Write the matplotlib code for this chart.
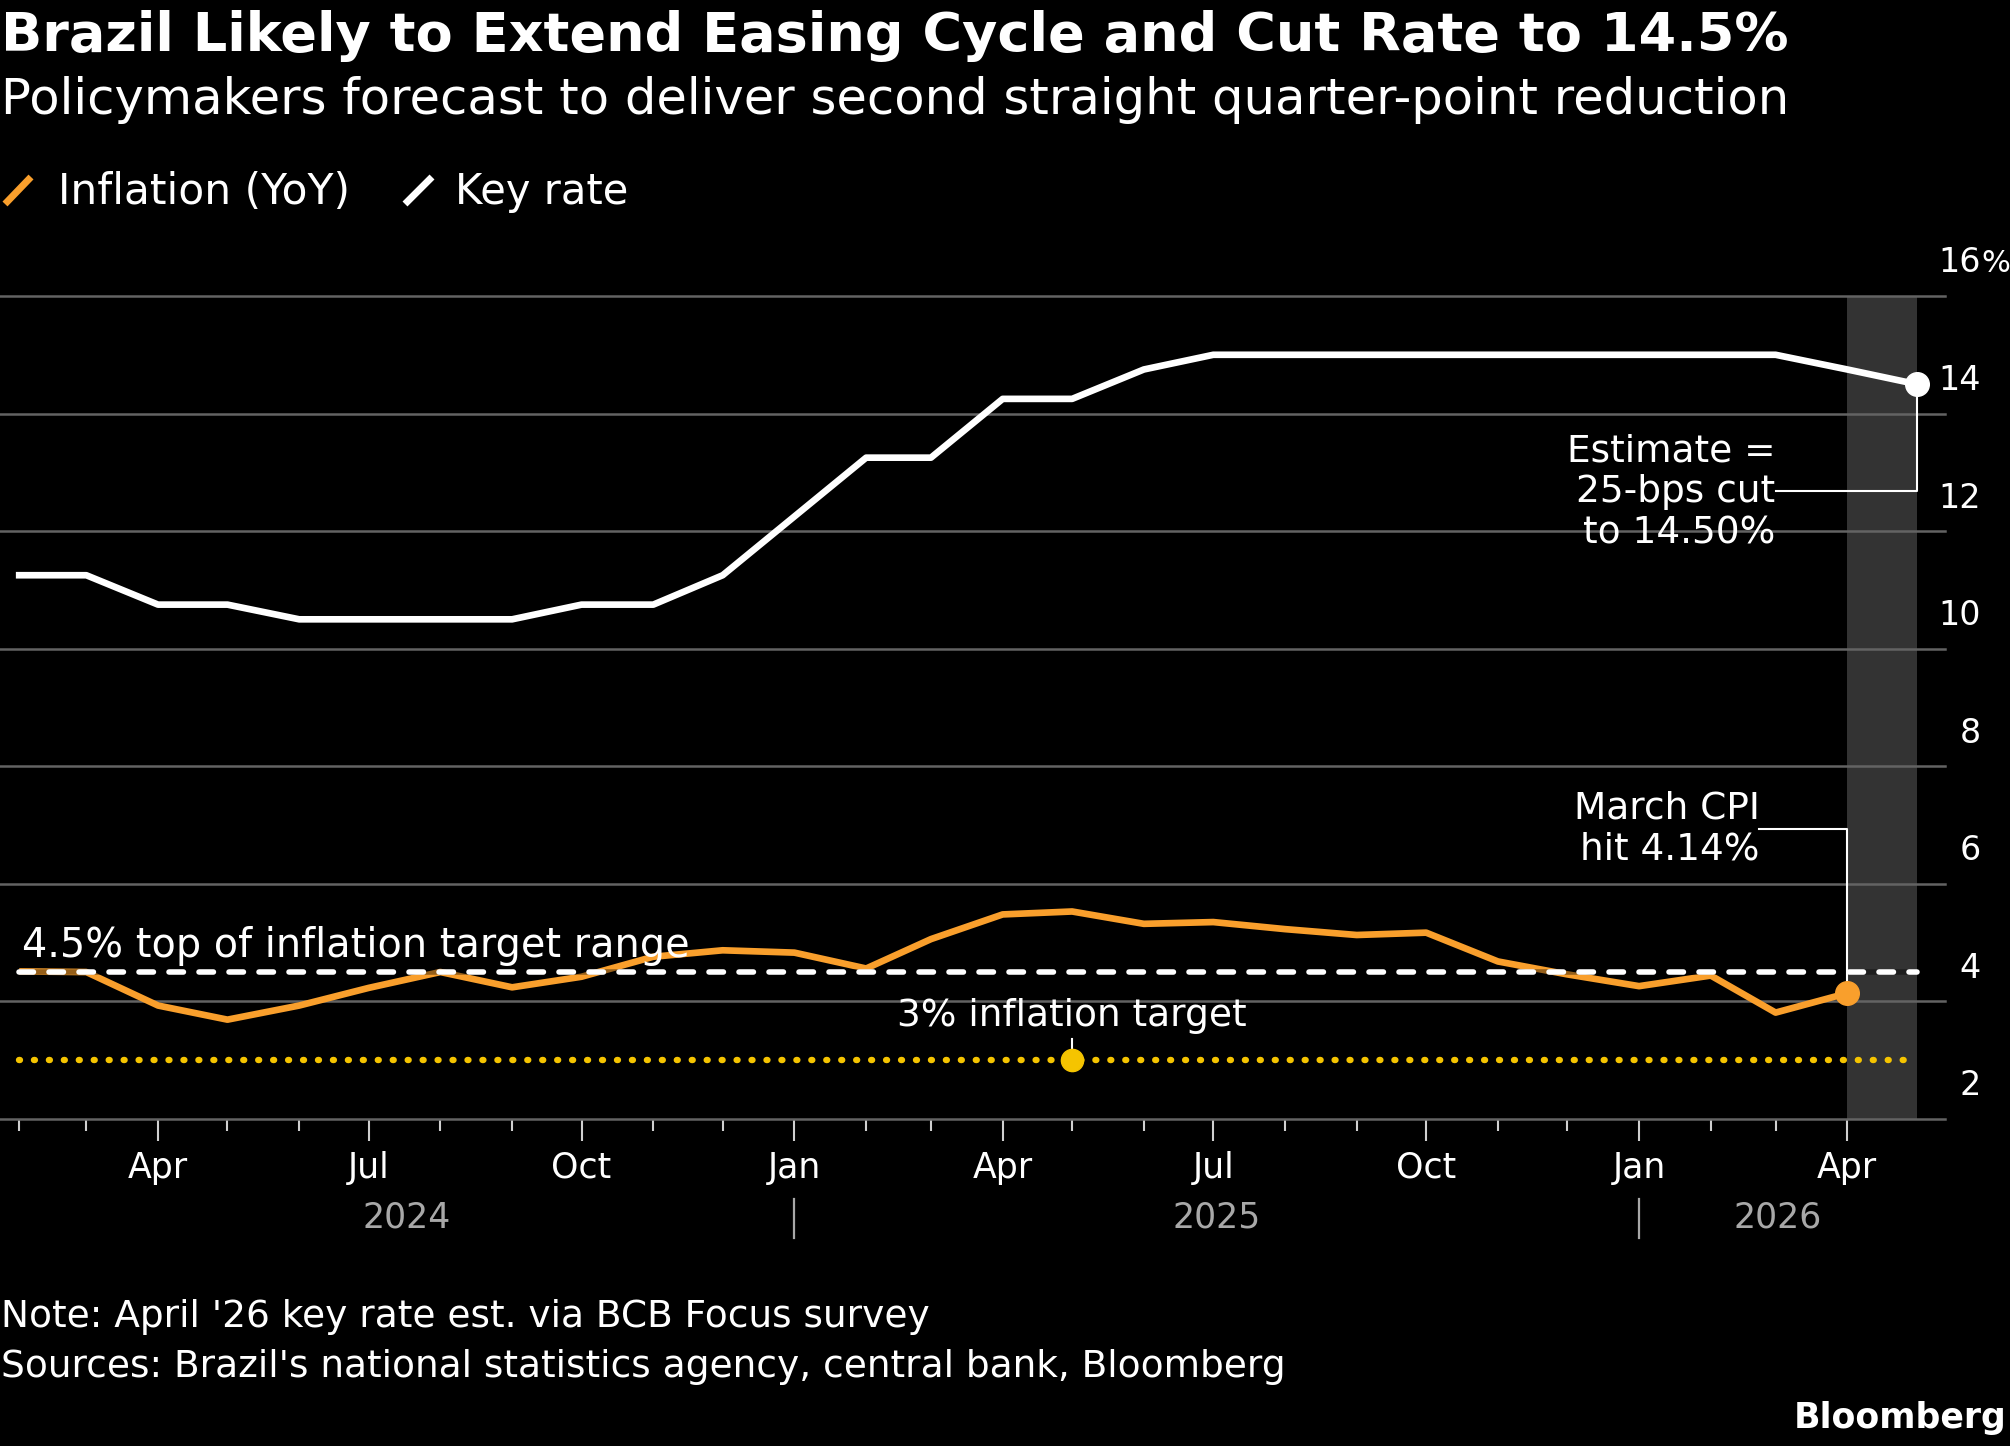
import matplotlib
matplotlib.use('Agg')
import matplotlib.pyplot as plt
import matplotlib.dates as mdates
from matplotlib.ticker import FixedLocator
from matplotlib.lines import Line2D
import pandas as pd

# ---------------- data ----------------
# month-end readings, plotted at the start of the following month
dates = pd.date_range('2024-02-01', '2026-05-01', freq='MS')
key_rate = [11.25, 11.25, 10.75, 10.75, 10.50, 10.50, 10.50, 10.50, 10.75, 10.75, 11.25,
            12.25, 13.25, 13.25, 14.25, 14.25, 14.75, 15.00, 15.00, 15.00, 15.00, 15.00, 15.00,
            15.00, 15.00, 15.00, 14.75, 14.50]
inflation = [4.51, 4.50, 3.93, 3.69, 3.93, 4.23, 4.50, 4.24, 4.42, 4.76, 4.87,
             4.83, 4.56, 5.06, 5.48, 5.53, 5.32, 5.35, 5.23, 5.13, 5.17, 4.68, 4.46,
             4.26, 4.44, 3.81, 4.14]
infl_dates = dates[:len(inflation)]
target_top = 4.5
target = 3.0
yticks = [2, 4, 6, 8, 10, 12, 14, 16]
years = ['2024', '2025', '2026']
year_starts = pd.to_datetime(['2024-02-01', '2025-01-01', '2026-01-01'])
year_ends = pd.to_datetime(['2025-01-01', '2026-01-01', '2026-05-01'])
year_seps = pd.to_datetime(['2025-01-01', '2026-01-01'])

ORANGE = '#f99f2c'
YELLOW = '#f5c400'
GRID = '#636363'
BAND = '#333333'
TICK = '#cfcfcf'
GRAYTXT = '#a8a8a8'

W, H = 2010, 1446
fig = plt.figure(figsize=(W / 100, H / 100), dpi=100, facecolor='black')
ax_left, ax_right, ax_top, ax_bot = 0, 1945, 296, 1119
ax = fig.add_axes([ax_left / W, 1 - ax_bot / H, (ax_right - ax_left) / W, (ax_bot - ax_top) / H])
ax.set_facecolor('black')

x0 = dates[0] - pd.Timedelta(days=8.3)
x1 = dates[0] + pd.Timedelta(days=832.2)
ax.set_xlim(x0, x1)
ax.set_ylim(2, 16)

for s in ax.spines.values():
    s.set_visible(False)

# y grid
ax.set_yticks(yticks)
ax.tick_params(axis='y', length=0, labelleft=False, labelright=False)
ax.yaxis.grid(True, color=GRID, lw=1.8)
ax.xaxis.grid(False)
for gl in ax.get_ygridlines():
    gl.set_clip_on(False)

# x ticks
ax.xaxis.set_major_locator(mdates.MonthLocator(bymonth=[1, 4, 7, 10]))
ax.xaxis.set_major_formatter(mdates.DateFormatter('%b'))
ax.xaxis.set_minor_locator(FixedLocator(mdates.date2num(infl_dates)))
ax.tick_params(axis='x', which='major', length=16, width=1.5, color=TICK,
               labelsize=25, labelcolor='white', pad=7)
ax.tick_params(axis='x', which='minor', length=8.6, width=1.5, color=TICK)

# forecast band
ax.axvspan(dates[len(inflation) - 1], dates[-1], color=BAND, lw=0, zorder=0.2)

# series
ax.plot(infl_dates, inflation, color=ORANGE, lw=4.8, zorder=3, solid_joinstyle='round',
        solid_capstyle='butt')
ax.plot([dates[0], dates[-1]], [target_top, target_top], color='black', alpha=0.4, lw=4.0,
        solid_capstyle='round', zorder=3.5)
ax.plot([dates[0], dates[-1]], [target_top, target_top], color='white', lw=4.0,
        ls=(0, (2.6, 2.8)), dash_capstyle='round', zorder=4)
ax.plot([dates[0], dates[-1]], [target, target], color=YELLOW, lw=4.6,
        ls=(0, (0.15, 2.19)), dash_capstyle='round', zorder=4)
ax.plot(dates, key_rate, color='white', lw=4.8, zorder=5, solid_joinstyle='round')

# markers
ax.plot([dates[-1]], [key_rate[-1]], 'o', color='white', ms=17, zorder=6)
ax.plot([infl_dates[-1]], [inflation[-1]], 'o', color=ORANGE, ms=17, zorder=6)
tdate = dates[15]
ax.plot([tdate], [target], 'o', color=YELLOW, ms=16, zorder=6)
ax.plot([tdate, tdate], [target, 3.36], color='white', lw=1.5, zorder=5.5)

FS = 27
# annotations
ax.text(dates[0] + pd.Timedelta(days=1), 4.76, '4.5% top of inflation target range',
        color='white', fontsize=28.6, ha='left', va='baseline', zorder=7)
ax.text(tdate, 3.58, '3% inflation target', color='white', fontsize=FS,
        ha='center', va='baseline', zorder=7)

est_x = dates[-3]
for i, line in enumerate(['Estimate =', '25-bps cut', 'to 14.50%']):
    ax.annotate(line, xy=(est_x, 12.49), xycoords='data',
                xytext=(0, 29.5 * (1 - i)), textcoords='offset points',
                color='white', fontsize=FS, ha='right', va='baseline', zorder=7)
ax.plot([est_x, dates[-1], dates[-1]], [12.68, 12.68, key_rate[-1]], color='white', lw=1.5, zorder=5.5)

cpi_x = dates[-3] - pd.Timedelta(days=7)
for i, line in enumerate(['March CPI', 'hit 4.14%']):
    ax.annotate(line, xy=(cpi_x, 6.41), xycoords='data',
                xytext=(0, 29.5 * (1 - i)), textcoords='offset points',
                color='white', fontsize=FS, ha='right', va='baseline', zorder=7)
ax.plot([cpi_x, infl_dates[-1], infl_dates[-1]], [6.94, 6.94, inflation[-1]], color='white', lw=1.5, zorder=5.5)

# right-hand y labels, sitting above their gridlines
ylab_x = 1981 / (ax_right - ax_left)
for v in yticks:
    ax.annotate(str(v), xy=(ylab_x, v), xycoords=('axes fraction', 'data'),
                xytext=(0, 17), textcoords='offset points', ha='right', va='baseline',
                color='white', fontsize=24, annotation_clip=False)
    if v == yticks[-1]:
        ax.annotate('%', xy=(ylab_x, v), xycoords=('axes fraction', 'data'),
                    xytext=(0, 17), textcoords='offset points', ha='left', va='baseline',
                    color='white', fontsize=22, annotation_clip=False)

# year labels and separators
axh = ax_bot - ax_top
xt = ax.get_xaxis_transform()
for lab, s, e in zip(years, year_starts, year_ends):
    mid = s + (e - s) / 2
    ax.text(mid, -(1227 - ax_bot) / axh, lab, transform=xt, color=GRAYTXT, fontsize=25,
            ha='center', va='baseline', clip_on=False)
for d in year_seps:
    ax.plot([d, d], [-(1199 - ax_bot) / axh, -(1238 - ax_bot) / axh], transform=xt,
            color=GRAYTXT, lw=1.6, clip_on=False)

# titles
fig.text(1 / W, 1 - 51 / H, 'Brazil Likely to Extend Easing Cycle and Cut Rate to 14.5%',
         color='white', fontsize=39, fontweight='bold', ha='left', va='baseline')
fig.text(1 / W, 1 - 114 / H, 'Policymakers forecast to deliver second straight quarter-point reduction',
         color='white', fontsize=35.7, ha='left', va='baseline')

# legend
fig.add_artist(Line2D([5 / W, 31 / W], [1 - 204 / H, 1 - 177 / H], transform=fig.transFigure,
                      color=ORANGE, lw=5, solid_capstyle='butt'))
fig.text(58 / W, 1 - 204 / H, 'Inflation (YoY)', color='white', fontsize=30.5, ha='left', va='baseline')
fig.add_artist(Line2D([405 / W, 432 / W], [1 - 204 / H, 1 - 177 / H], transform=fig.transFigure,
                      color='white', lw=5, solid_capstyle='butt'))
fig.text(455 / W, 1 - 204 / H, 'Key rate', color='white', fontsize=30, ha='left', va='baseline')

# footer
fig.text(1 / W, 1 - 1327 / H, "Note: April '26 key rate est. via BCB Focus survey",
         color='white', fontsize=27, ha='left', va='baseline')
fig.text(1 / W, 1 - 1377 / H, "Sources: Brazil's national statistics agency, central bank, Bloomberg",
         color='white', fontsize=27, ha='left', va='baseline')
fig.text(2006 / W, 1 - 1428 / H, 'Bloomberg', color='white', fontsize=25, fontweight='bold',
         ha='right', va='baseline')

fig.savefig('out.png', dpi=100, facecolor='black')
